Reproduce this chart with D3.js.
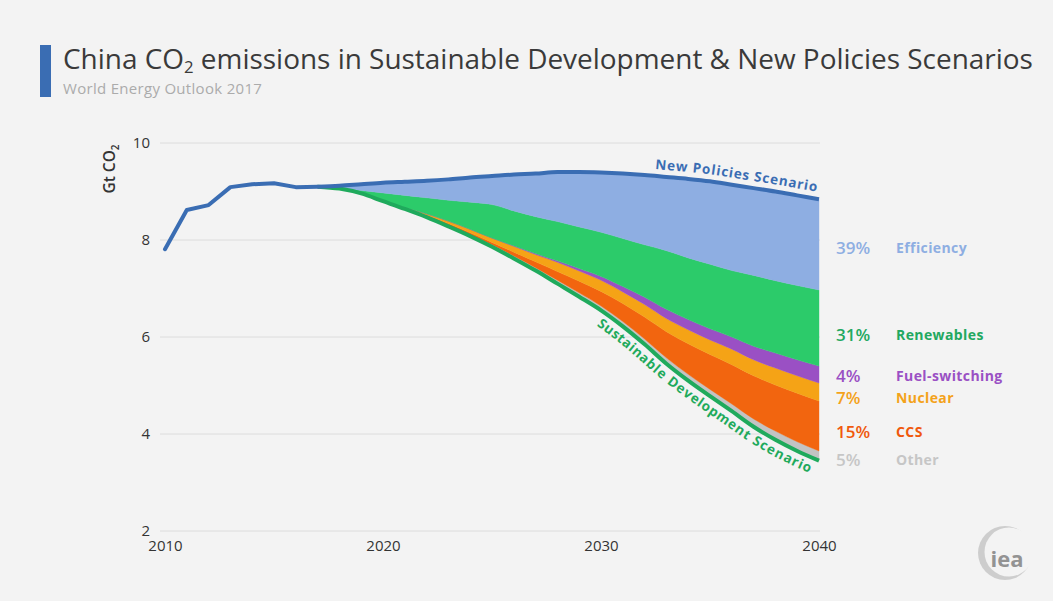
<!DOCTYPE html>
<html>
<head>
<meta charset="utf-8">
<script src="https://cdn.jsdelivr.net/npm/d3@7"></script>
<style>
  html, body { margin: 0; padding: 0; background: #f3f3f3; }
  svg { display: block; }
  text { font-family: "Open Sans", "Noto Sans", sans-serif; }
</style>
</head>
<body>
<svg id="chart" width="1053" height="601"></svg>
<script>
// Historical emissions, Gt CO2
const histYears  = [2010, 2011, 2012, 2013, 2014, 2015, 2016, 2017];
const histValues = [7.81, 8.62, 8.72, 9.09, 9.15, 9.17, 9.09, 9.10];

// Projection years
const years = [2017, 2018, 2019, 2020, 2021, 2022, 2023, 2024, 2025, 2026, 2027, 2028,
               2029, 2030, 2031, 2032, 2033, 2034, 2035, 2036, 2037, 2038, 2039, 2040];

// New Policies Scenario total
const nps = [9.10, 9.12, 9.15, 9.18, 9.20, 9.22, 9.25, 9.29, 9.32, 9.35, 9.37, 9.40,
             9.40, 9.39, 9.37, 9.34, 9.30, 9.26, 9.21, 9.14, 9.07, 9.00, 8.92, 8.84];

// Sustainable Development Scenario total
const sds = [9.10, 9.06, 8.96, 8.80, 8.64, 8.47, 8.28, 8.08, 7.86, 7.62, 7.37, 7.10,
             6.83, 6.55, 6.22, 5.85, 5.45, 5.10, 4.78, 4.47, 4.15, 3.88, 3.65, 3.45];

// Abatement wedges between the two scenarios (stacked up from the SDS line)
const other      = [0, 0, 0, 0, 0.01, 0.02, 0.03, 0.03, 0.04, 0.05, 0.06, 0.07,
                    0.08, 0.09, 0.10, 0.11, 0.12, 0.13, 0.14, 0.15, 0.16, 0.18, 0.19, 0.20];
const ccs        = [0, 0, 0, 0, 0.01, 0.02, 0.03, 0.04, 0.05, 0.08, 0.12, 0.18,
                    0.24, 0.30, 0.37, 0.45, 0.54, 0.63, 0.72, 0.81, 0.89, 0.95, 1.00, 1.03];
const nuclear    = [0, 0, 0, 0, 0.01, 0.03, 0.05, 0.07, 0.09, 0.12, 0.15, 0.19,
                    0.21, 0.23, 0.24, 0.26, 0.27, 0.29, 0.30, 0.32, 0.33, 0.35, 0.36, 0.37];
const fuelSwitch = [0, 0, 0, 0, 0, 0, 0, 0, 0, 0.01, 0.02, 0.03,
                    0.05, 0.08, 0.11, 0.15, 0.19, 0.21, 0.23, 0.25, 0.28, 0.31, 0.33, 0.35];
const renewables = [0, 0.01, 0.06, 0.17, 0.25, 0.33, 0.43, 0.56, 0.69, 0.72, 0.76, 0.81,
                    0.86, 0.91, 0.99, 1.08, 1.21, 1.27, 1.33, 1.37, 1.46, 1.49, 1.53, 1.57];

// Legend entries, bottom wedge first
const wedgeKeys   = ["other", "ccs", "nuclear", "fuel", "renewables", "efficiency"];
const wedgeNames  = ["Other", "CCS", "Nuclear", "Fuel-switching", "Renewables", "Efficiency"];
const wedgeShares = ["5%", "15%", "7%", "4%", "31%", "39%"];

const yTicks = [2, 4, 6, 8, 10];
const xTicks = [2010, 2020, 2030, 2040];

// ---- styles & layout ----
const fills  = { other: "#c3c3c3", ccs: "#f2650f", nuclear: "#f5a316", fuel: "#9a50c4",
                 renewables: "#2ccb6a", efficiency: "#8eaee2" };
const inks   = { other: "#c6c6c6", ccs: "#f0580c", nuclear: "#f3a21a", fuel: "#9a50c4",
                 renewables: "#22a860", efficiency: "#8eaee2" };
const legendY = { efficiency: 248, renewables: 335, fuel: 376, nuclear: 398, ccs: 432, other: 460 };
const blueLine = "#3a6db3", greenLine = "#1faa5c";

const svg = d3.select("#chart");
svg.append("rect").attr("width", 1053).attr("height", 601).attr("fill", "#f3f3f3");

const x = d3.scaleLinear().domain([2010, 2040]).range([165, 819]);
const y = d3.scaleLinear().domain([2, 10]).range([531, 143]);

// ---- title ----
svg.append("rect").attr("x", 40).attr("y", 45).attr("width", 11).attr("height", 52).attr("fill", "#3a6db3");
const title = svg.append("text").attr("x", 63).attr("y", 69).attr("fill", "#3a3a3a").attr("font-size", 24);
title.append("tspan").text("China CO");
title.append("tspan").attr("class", "sub").attr("dy", 4).text("2");
title.append("tspan").attr("class", "rest").attr("dy", -4).text(" emissions in Sustainable Development & New Policies Scenarios");
function fitTitle(fs) {
  title.attr("font-size", fs);
  title.select(".sub").attr("font-size", fs * 0.6);
}
fitTitle(24);
const tw = title.node().getComputedTextLength();
fitTitle(24 * 970 / tw);

svg.append("text").attr("x", 63).attr("y", 94).attr("fill", "#ababab")
  .attr("font-size", 15).attr("letter-spacing", 0.3).text("World Energy Outlook 2017");

// ---- gridlines & axes ----
const grid = svg.append("g");
grid.selectAll("line").data(yTicks).join("line")
  .attr("x1", 160).attr("x2", 820)
  .attr("y1", d => y(d)).attr("y2", d => y(d))
  .attr("stroke", "#dcdcdc").attr("stroke-width", 1);

const yAxis = svg.append("g").attr("transform", "translate(150,0)")
  .call(d3.axisLeft(y).tickValues(yTicks).tickSize(0).tickPadding(0).tickFormat(d3.format("d")));
yAxis.select(".domain").remove();
yAxis.selectAll("text").attr("font-size", 15).attr("fill", "#333")
  .attr("font-family", "\"Open Sans\", sans-serif");

const xAxis = svg.append("g").attr("transform", "translate(0,540)")
  .call(d3.axisBottom(x).tickValues(xTicks).tickSize(0).tickPadding(0).tickFormat(d3.format("d")));
xAxis.select(".domain").remove();
xAxis.selectAll("text").attr("font-size", 15).attr("fill", "#333")
  .attr("font-family", "\"Open Sans\", sans-serif");

const yl = svg.append("text").attr("transform", "translate(115,169) rotate(-90)")
  .attr("text-anchor", "middle").attr("font-size", 15.5).attr("font-weight", 600).attr("fill", "#333");
yl.append("tspan").text("Gt CO");
yl.append("tspan").attr("font-size", 10).attr("dy", 4).text("2");

// ---- stacked wedges ----
const rows = years.map((yr, i) => ({
  year: yr, sds: sds[i], nps: nps[i],
  other: other[i], ccs: ccs[i], nuclear: nuclear[i], fuel: fuelSwitch[i], renewables: renewables[i],
  efficiency: Math.max(0, nps[i] - sds[i] - other[i] - ccs[i] - nuclear[i] - fuelSwitch[i] - renewables[i])
}));
const stacked = d3.stack().keys(wedgeKeys)(rows);

const area = d3.area()
  .x(d => x(d.data.year))
  .y0(d => y(d.data.sds + d[0]))
  .y1(d => y(d.data.sds + d[1]))
  .curve(d3.curveMonotoneX);

svg.append("g").selectAll("path").data(stacked).join("path")
  .attr("d", area)
  .attr("fill", s => fills[s.key])
  .attr("stroke", s => fills[s.key]).attr("stroke-width", 0.4);

// ---- scenario lines ----
const smooth = d3.line().x(d => x(d[0])).y(d => y(d[1])).curve(d3.curveMonotoneX);
const straight = d3.line().x(d => x(d[0])).y(d => y(d[1]));
const sdsPts = years.map((yr, i) => [yr, sds[i]]);
const npsPts = years.map((yr, i) => [yr, nps[i]]);
const histPts = histYears.map((yr, i) => [yr, histValues[i]]);

svg.append("path").attr("id", "sdsPath").attr("d", smooth(sdsPts))
  .attr("fill", "none").attr("stroke", greenLine).attr("stroke-width", 4);
svg.append("path").attr("id", "npsPath").attr("d", smooth(npsPts))
  .attr("fill", "none").attr("stroke", blueLine).attr("stroke-width", 4);
svg.append("path").attr("d", straight(histPts))
  .attr("fill", "none").attr("stroke", blueLine).attr("stroke-width", 4)
  .attr("stroke-linejoin", "round").attr("stroke-linecap", "round");

// ---- labels on the scenario lines ----
svg.append("text").attr("font-size", 13.5).attr("font-weight", 700).attr("fill", blueLine)
  .attr("letter-spacing", 0.8).attr("dy", -7)
  .append("textPath").attr("href", "#npsPath").attr("startOffset", "99.4%")
  .attr("text-anchor", "end").text("New Policies Scenario");

svg.append("text").attr("font-size", 13.5).attr("font-weight", 700).attr("fill", greenLine)
  .attr("letter-spacing", 0.7).attr("dy", 15)
  .append("textPath").attr("href", "#sdsPath").attr("startOffset", "99.4%")
  .attr("text-anchor", "end").text("Sustainable Development Scenario");

// ---- legend ----
const legend = svg.append("g");
wedgeKeys.forEach((k, i) => {
  legend.append("text").attr("x", 836).attr("y", legendY[k]).attr("dy", "0.35em")
    .attr("font-size", 17).attr("font-weight", 600).attr("fill", inks[k]).text(wedgeShares[i]);
  legend.append("text").attr("x", 896).attr("y", legendY[k]).attr("dy", "0.35em")
    .attr("font-size", 14).attr("font-weight", 700).attr("letter-spacing", 0.4)
    .attr("fill", inks[k]).text(wedgeNames[i]);
});

// ---- iea mark ----
const defs = svg.append("defs");
const mask = defs.append("mask").attr("id", "crescent");
mask.append("rect").attr("x", 960).attr("y", 510).attr("width", 90).attr("height", 90).attr("fill", "black");
mask.append("circle").attr("cx", 1005).attr("cy", 553).attr("r", 27).attr("fill", "white");
mask.append("circle").attr("cx", 1009).attr("cy", 552).attr("r", 24.5).attr("fill", "black");
svg.append("rect").attr("x", 960).attr("y", 510).attr("width", 90).attr("height", 90)
  .attr("fill", "#cdcdcd").attr("mask", "url(#crescent)");
svg.append("text").attr("x", 1007).attr("y", 567).attr("text-anchor", "middle")
  .attr("font-family", "\"DejaVu Serif\", \"Liberation Serif\", serif")
  .attr("font-size", 22).attr("font-weight", 700).attr("fill", "#939393").text("iea");
</script>
</body>
</html>
